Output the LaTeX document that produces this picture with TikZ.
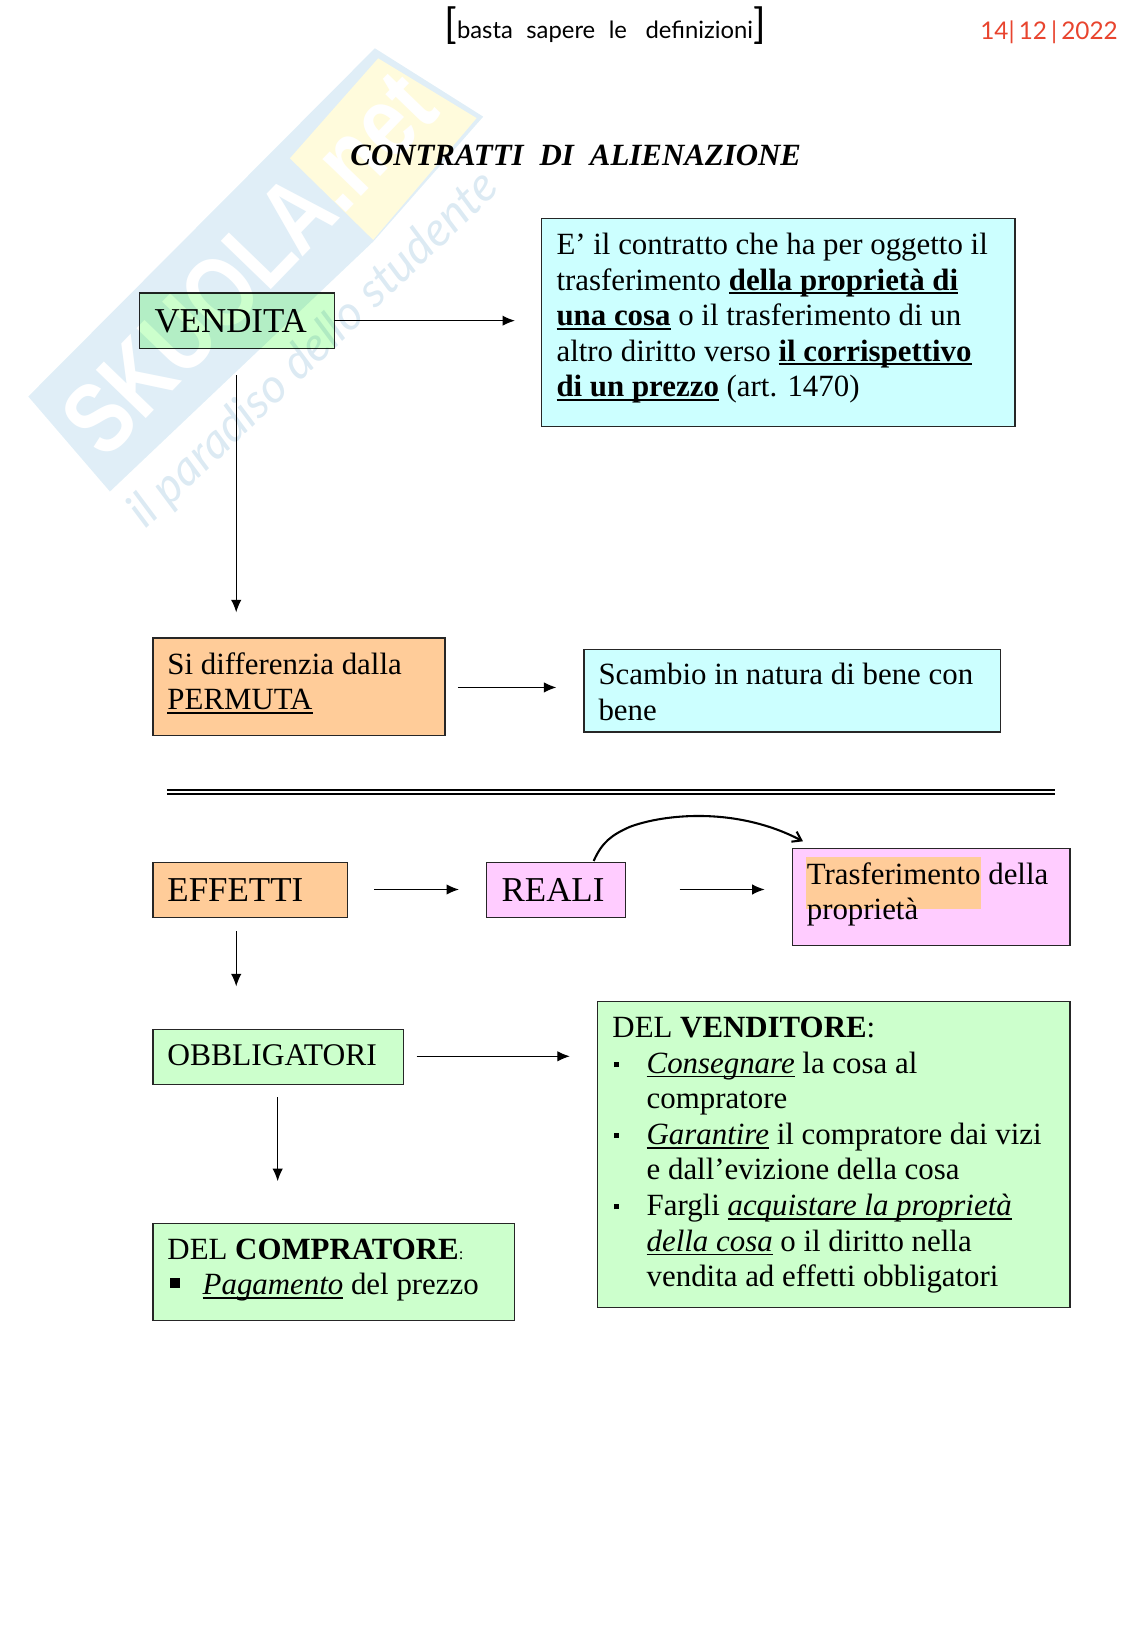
\documentclass[tikz,border=0pt]{standalone}
\usepackage{fontspec}
\usepackage{graphicx}
\setmainfont{Liberation Serif}
\newfontfamily\wmfont{Liberation Sans}
\newfontfamily\wmital{Lato}
\newfontfamily\handfont{Lato}
\usetikzlibrary{arrows.meta,calc}
\definecolor{cy}{HTML}{CCFFFF}
\definecolor{or}{HTML}{FFCC99}
\definecolor{pk}{HTML}{FFCCFF}
\definecolor{gr}{HTML}{CCFFCC}
\definecolor{wmblue}{HTML}{E0EEF7}
\definecolor{wmyel}{HTML}{FFFBDC}
\definecolor{wmtxt}{HTML}{DCEAF3}
\definecolor{redpen}{HTML}{E8442E}
% #1 width, #2 height, #3 first baseline, #4 left pad, #5 text
\newcommand\bt[5]{\parbox[t][#2pt][t]{#1pt}{\leftskip=#4pt\rightskip=0pt plus 1fil\parindent=0pt\rule{0pt}{#3pt}#5}}
\newcommand\ulx[2][1.3]{{\setbox0\hbox{#2}\rlap{\rule[-4pt]{\wd0}{#1pt}}\box0}}
\newcommand\bulb[2]{\makebox[#1pt][l]{\rule[6pt]{#2pt}{#2pt}}}
\tikzset{
  x=1pt,y=-1pt,
  boxn/.style={draw=black!85,line width=1.3pt,rectangle,inner sep=0pt,anchor=north west,align=left},
  big/.style={font=\fontsize{33.7}{34.3}\selectfont},
  body/.style={font=\fontsize{29.8}{34.3}\selectfont},
  arr/.style={draw=black,line width=1.1pt,-{Latex[length=12pt,width=10pt]}},
  swoop/.style={draw=black,line width=2pt,-{Straight Barb[length=8pt,width=11pt]}},
}
\begin{document}
\begin{tikzpicture}
\useasboundingbox (0,0) rectangle (1108,1568.4);
% watermark
\fill[wmblue] (27.3,382.7) -- (361.8,46.6) -- (466.4,112.6) -- (360.2,233.2) -- (106.1,474.4) -- cycle;
\fill[wmyel] (279.8,152.8) -- (365,56.3) -- (460,114) -- (360.2,231.5) -- cycle;
\node[text=white,font=\wmfont\bfseries\fontsize{78}{78}\selectfont,rotate=46,inner sep=0pt] (wmlogo) at (240,254) {\scalebox{1}[1.25]{SKUOLA.net}};
\node[text=wmtxt,font=\wmital\itshape\fontsize{46}{46}\selectfont,rotate=43.7,inner sep=0pt] (wmtag) at (303,338) {il paradiso dello studente};
% handwriting
\node[font=\handfont\fontsize{23}{23}\selectfont,inner sep=0pt] (hand) at (584,25) {{\fontsize{40}{40}\selectfont[}basta\hspace{13pt}sapere\hspace{13pt}le\hspace{18pt}definizioni{\fontsize{40}{40}\selectfont]}};
\node[text=redpen,font=\handfont\fontsize{23.5}{24}\selectfont,inner sep=0pt] (date) at (1012.5,31) {14|\,12\,|\,2022};
% title
\node[font=\bfseries\itshape\fontsize{29.8}{34}\selectfont,inner sep=0pt,anchor=base west] (title) at (338,160) {CONTRATTI\hspace{8pt} DI\hspace{8pt} ALIENAZIONE};
% boxes
\node[boxn,big,fill=gr,blend mode=multiply] (vendita) at (134,282) {\bt{188}{54}{38.5}{14.5}{VENDITA}};
\node[boxn,body,fill=cy] (def) at (522,210) {\bt{457}{201}{35}{14.5}{E’ il contratto che ha per oggetto il\\trasferimento \ulx[2]{\textbf{della proprietà di}}\\\ulx[2]{\textbf{una cosa}} o il trasferimento di un\\altro diritto verso \ulx[2]{\textbf{il corrispettivo}}\\\ulx[2]{\textbf{di un prezzo}} (art. 1470)}};
\node[boxn,body,fill=or] (si) at (147,615) {\bt{282}{94}{35}{14}{Si differenzia dalla\\\ulx{PERMUTA}}};
\node[boxn,body,fill=cy] (sc) at (563,626) {\bt{402}{80}{34}{14}{Scambio in natura di bene con\\bene}};
\node[boxn,big,fill=or] (eff) at (147,832) {\bt{188}{53}{37}{14}{EFFETTI}};
\node[boxn,big,fill=pk] (rea) at (469,832) {\bt{134}{53}{37}{14.5}{REALI}};
\node[boxn,fill=pk,minimum width=268pt,minimum height=94pt] (tr) at (764,818) {};
\fill[or] (778,827) rectangle (947,877);
\node[body,inner sep=0pt,anchor=north west,align=left] (trt) at (764,818) {\bt{268}{94}{35}{14.5}{Trasferimento della\\proprietà}};
\node[boxn,font=\fontsize{30.4}{34.3}\selectfont,fill=gr] (obb) at (147,993) {\bt{242}{53}{35}{14}{OBBLIGATORI}};
\node[boxn,body,fill=gr] (com) at (147,1180) {\bt{349}{94}{34.5}{14}{DEL \textbf{COMPRATORE}{\fontsize{16}{16}\selectfont:}\\\hspace*{2pt}\bulb{32}{10}\ulx{\textit{Pagamento}} del prezzo}};
\node[boxn,body,fill=gr] (ven) at (576,966) {\bt{456}{295}{35}{14.5}{DEL \textbf{VENDITORE}:\\\hspace*{1pt}\bulb{32}{5}\ulx{\textit{Consegnare}} la cosa al\\\hspace*{33pt}compratore\\\hspace*{1pt}\bulb{32}{5}\ulx{\textit{Garantire}} il compratore dai vizi\\\hspace*{33pt}e dall’evizione della cosa\\\hspace*{1pt}\bulb{32}{5}Fargli \ulx{\textit{acquistare la proprietà}}\\\hspace*{33pt}\ulx{\textit{della cosa}} o il diritto nella\\\hspace*{33pt}vendita ad effetti obbligatori}};
% free arrow ends
\coordinate (a1) at (497,309.5);
\coordinate (a0) at (322,309.5);
\coordinate (b1) at (228,362);
\coordinate (b2) at (228,591);
\coordinate (c1) at (442,663.5);
\coordinate (c2) at (537,663.5);
\coordinate (d1) at (361,858.5);
\coordinate (d2) at (443,858.5);
\coordinate (e1) at (656,858.5);
\coordinate (e2) at (738,858.5);
\coordinate (f1) at (228,899);
\coordinate (f2) at (228,952);
\coordinate (g1) at (402,1019.5);
\coordinate (g2) at (550,1019.5);
\coordinate (h1) at (268,1059);
\coordinate (h2) at (268,1140);
\coordinate (s1) at (573,831);
\coordinate (s2) at (775,812);
\coordinate (l1) at (161,762.5);
\coordinate (l2) at (1018,762.5);
\coordinate (l3) at (161,766.5);
\coordinate (l4) at (1018,766.5);
% connectors
\draw[arr] (a0) -- (a1);
\draw[arr] (b1) -- (b2);
\draw[arr] (c1) -- (c2);
\draw[arr] (d1) -- (d2);
\draw[arr] (e1) -- (e2);
\draw[arr] (f1) -- (f2);
\draw[arr] (g1) -- (g2);
\draw[arr] (h1) -- (h2);
\draw[swoop] (s1) .. controls (581,813) and (590,806) .. (608,798) .. controls (640,786) and (710,778) .. (s2);
\draw[line width=1.6pt] (l1) -- (l2);
\draw[line width=1.6pt] (l3) -- (l4);
\end{tikzpicture}
\end{document}
